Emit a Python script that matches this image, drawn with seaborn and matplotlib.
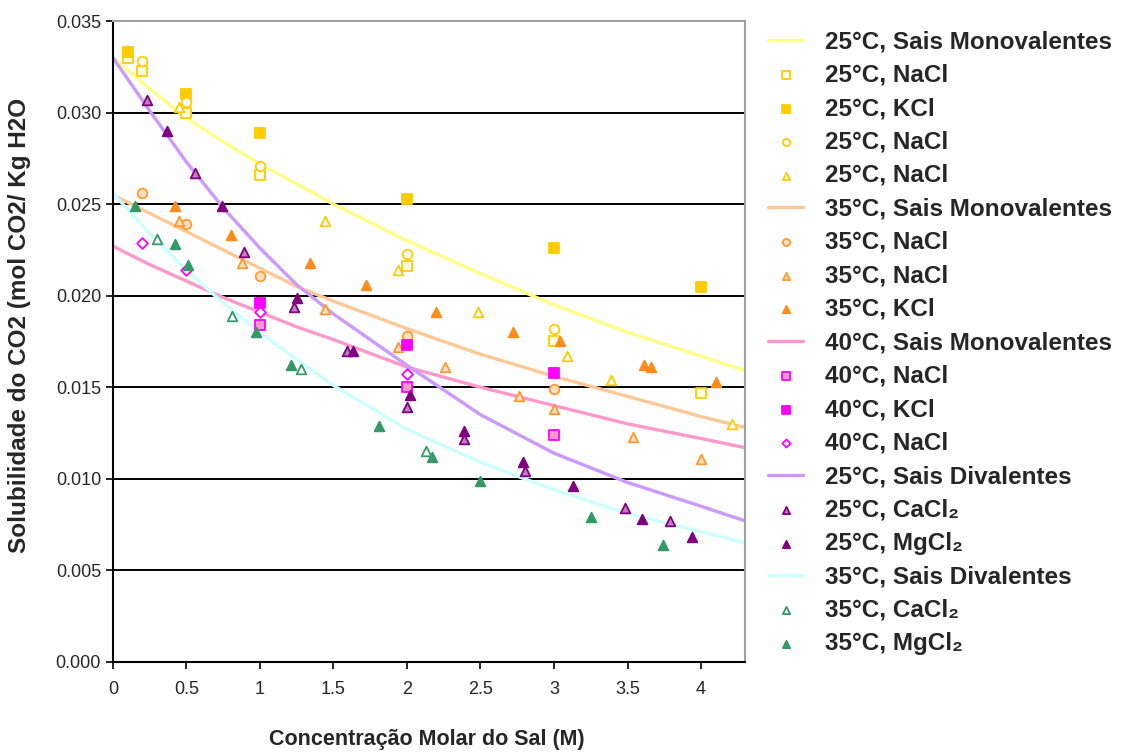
import matplotlib
matplotlib.use("Agg")
import matplotlib.pyplot as plt
import seaborn as sns
from matplotlib.ticker import MultipleLocator, FormatStrFormatter

sns.set_style("white")
plt.rcParams["font.family"] = ["Liberation Sans", "DejaVu Sans"]

# trend curves
curve_x = [0, 0.25, 0.5, 0.75, 1.0, 1.25, 1.5, 2.0, 2.5, 3.0, 3.5, 4.0, 4.3]
mono25_y = [0.0330, 0.0313, 0.0297, 0.0284, 0.0272, 0.0261, 0.0250, 0.0230, 0.0212, 0.0195, 0.0180, 0.0167, 0.0159]
mono35_y = [0.0255, 0.0245, 0.0235, 0.0225, 0.0215, 0.0205, 0.0197, 0.0182, 0.0168, 0.0156, 0.0145, 0.0134, 0.0128]
mono40_y = [0.0227, 0.0217, 0.0208, 0.0199, 0.0191, 0.0183, 0.0176, 0.0161, 0.0150, 0.0140, 0.0130, 0.0122, 0.0117]
div25_y = [0.0330, 0.0301, 0.0273, 0.0248, 0.0226, 0.0206, 0.0190, 0.0162, 0.0135, 0.0114, 0.0098, 0.0085, 0.0077]
div35_y = [0.0256, 0.0234, 0.0214, 0.0196, 0.0180, 0.0165, 0.0151, 0.0127, 0.0109, 0.0094, 0.0081, 0.0071, 0.0065]

# measured points
nacl25_sq_x = [0.1, 0.2, 0.5, 1.0, 2.0, 3.0, 4.0]
nacl25_sq_y = [0.0330, 0.0323, 0.0300, 0.0266, 0.0216, 0.0175, 0.0147]
kcl25_x = [0.1, 0.5, 1.0, 2.0, 3.0, 4.0]
kcl25_y = [0.0333, 0.0310, 0.0289, 0.0253, 0.0226, 0.0205]
nacl25_circ_x = [0.2, 0.5, 1.0, 2.0, 3.0]
nacl25_circ_y = [0.0328, 0.0306, 0.0271, 0.0223, 0.0182]
nacl25_tri_x = [0.45, 1.44, 1.94, 2.48, 3.09, 3.39, 4.21]
nacl25_tri_y = [0.0303, 0.0241, 0.0214, 0.0191, 0.0167, 0.0154, 0.0130]

nacl35_circ_x = [0.2, 0.5, 1.0, 2.0, 3.0]
nacl35_circ_y = [0.0256, 0.0239, 0.0211, 0.0178, 0.0149]
nacl35_tri_x = [0.45, 0.88, 1.44, 1.94, 2.26, 2.76, 3.0, 3.54, 4.0]
nacl35_tri_y = [0.0241, 0.0218, 0.0193, 0.0172, 0.0161, 0.0145, 0.0138, 0.0123, 0.0111]
kcl35_x = [0.42, 0.80, 1.34, 1.72, 2.20, 2.72, 3.04, 3.61, 3.66, 4.10]
kcl35_y = [0.0249, 0.0233, 0.0218, 0.0206, 0.0191, 0.0180, 0.0175, 0.0162, 0.0161, 0.0153]

nacl40_sq_x = [1.0, 2.0, 3.0]
nacl40_sq_y = [0.0184, 0.0150, 0.0124]
kcl40_x = [1.0, 2.0, 3.0]
kcl40_y = [0.0196, 0.0173, 0.0158]
nacl40_dia_x = [0.2, 0.5, 1.0, 2.0]
nacl40_dia_y = [0.0229, 0.0214, 0.0191, 0.0157]

cacl25_x = [0.23, 0.56, 0.89, 1.23, 1.59, 2.0, 2.39, 2.80, 3.48, 3.79]
cacl25_y = [0.0307, 0.0267, 0.0224, 0.0194, 0.0170, 0.0139, 0.0122, 0.0104, 0.0084, 0.0077]
mgcl25_x = [0.37, 0.74, 1.25, 1.63, 2.02, 2.39, 2.79, 3.13, 3.60, 3.94]
mgcl25_y = [0.0290, 0.0249, 0.0199, 0.0170, 0.0146, 0.0126, 0.0109, 0.0096, 0.0078, 0.0068]

cacl35_x = [0.30, 0.81, 1.28, 2.13]
cacl35_y = [0.0231, 0.0189, 0.0160, 0.0115]
mgcl35_x = [0.15, 0.42, 0.51, 0.97, 1.21, 1.81, 2.17, 2.50, 3.25, 3.74]
mgcl35_y = [0.0249, 0.0228, 0.0217, 0.0180, 0.0162, 0.0129, 0.0112, 0.0099, 0.0079, 0.0064]

GOLD, ORANGE, MAGENTA, PURPLE, GREEN = "#FFCC00", "#FF8C1A", "#FF00FF", "#800080", "#339966"

fig = plt.figure(figsize=(11.29, 7.53), dpi=100)
ax = fig.add_axes([0.100, 0.121, 0.560, 0.851])

def curve(y, color, label):
    sns.lineplot(x=curve_x, y=y, color=color, linewidth=2.4, label=label, ax=ax, zorder=2)

def pts(x, y, marker, face, edge, label, s=48):
    sns.scatterplot(x=x, y=y, marker=marker, s=s, color=face, edgecolor=edge,
                    linewidth=1.3, label=label, ax=ax, zorder=3)

# draw in legend order
curve(mono25_y, "#FFFF88", "25°C, Sais Monovalentes")
pts(nacl25_sq_x, nacl25_sq_y, "s", "#FFFFE0", GOLD, "25°C, NaCl")
pts(kcl25_x, kcl25_y, "s", GOLD, GOLD, "25°C, KCl")
pts(nacl25_circ_x, nacl25_circ_y, "o", "white", GOLD, "25°C, NaCl")
pts(nacl25_tri_x, nacl25_tri_y, "^", "white", GOLD, "25°C, NaCl")
curve(mono35_y, "#FFC896", "35°C, Sais Monovalentes")
pts(nacl35_circ_x, nacl35_circ_y, "o", "#FFE0C0", "#FF9933", "35°C, NaCl")
pts(nacl35_tri_x, nacl35_tri_y, "^", "#FFE0C0", "#FF9933", "35°C, NaCl")
pts(kcl35_x, kcl35_y, "^", ORANGE, ORANGE, "35°C, KCl")
curve(mono40_y, "#FF99CC", "40°C, Sais Monovalentes")
pts(nacl40_sq_x, nacl40_sq_y, "s", "#FF99CC", MAGENTA, "40°C, NaCl")
pts(kcl40_x, kcl40_y, "s", MAGENTA, MAGENTA, "40°C, KCl")
pts(nacl40_dia_x, nacl40_dia_y, "D", "white", MAGENTA, "40°C, NaCl", s=30)
curve(div25_y, "#CC99FF", "25°C, Sais Divalentes")
pts(cacl25_x, cacl25_y, "^", "#C080C0", PURPLE, "25°C, CaCl₂")
pts(mgcl25_x, mgcl25_y, "^", PURPLE, PURPLE, "25°C, MgCl₂")
curve(div35_y, "#CCFFFF", "35°C, Sais Divalentes")
pts(cacl35_x, cacl35_y, "^", "white", GREEN, "35°C, CaCl₂")
pts(mgcl35_x, mgcl35_y, "^", GREEN, GREEN, "35°C, MgCl₂")

handles, labels = ax.get_legend_handles_labels()
if ax.get_legend() is not None:
    ax.get_legend().remove()

ax.set_xlim(0, 4.3)
ax.set_ylim(0, 0.035)
ax.yaxis.set_major_locator(MultipleLocator(0.005))
ax.yaxis.set_major_formatter(FormatStrFormatter("%.3f"))
ax.set_xticks([0, 0.5, 1, 1.5, 2, 2.5, 3, 3.5, 4])
ax.set_xticklabels(["0", "0.5", "1", "1.5", "2", "2.5", "3", "3.5", "4"])
ax.grid(axis="y", color="black", linewidth=1.4, zorder=0)
ax.set_axisbelow(True)
ax.tick_params(axis="both", direction="out", length=5, width=1.2, color="black",
               labelsize=13, bottom=True, left=True)
ax.tick_params(axis="x", pad=9)
for side in ["left", "bottom"]:
    ax.spines[side].set_color("black")
    ax.spines[side].set_linewidth(1.5)
for side in ["top", "right"]:
    ax.spines[side].set_color("#A0A0A0")
    ax.spines[side].set_linewidth(1.5)
ax.set_xlabel("")
ax.set_ylabel("")

fig.text(20 / 1129, 1 - 325 / 753, "Solubilidade do CO2 (mol CO2/ Kg H2O", rotation=90,
         ha="center", va="center", fontsize=17.5, fontweight="bold")
fig.text(427 / 1129, 1 - 740 / 753, "Concentração Molar do Sal (M)",
         ha="center", va="center", fontsize=15.5, fontweight="bold")

fig.legend(handles, labels, loc="upper left", bbox_to_anchor=(756 / 1129, 1 - 18 / 753),
           frameon=False, borderpad=0, handlelength=1.45, handletextpad=0.9,
           labelspacing=0.43, markerscale=0.75,
           prop={"family": ["Liberation Sans", "DejaVu Sans"], "size": 17.5, "weight": "bold"})

fig.savefig("out.png", dpi=100)
